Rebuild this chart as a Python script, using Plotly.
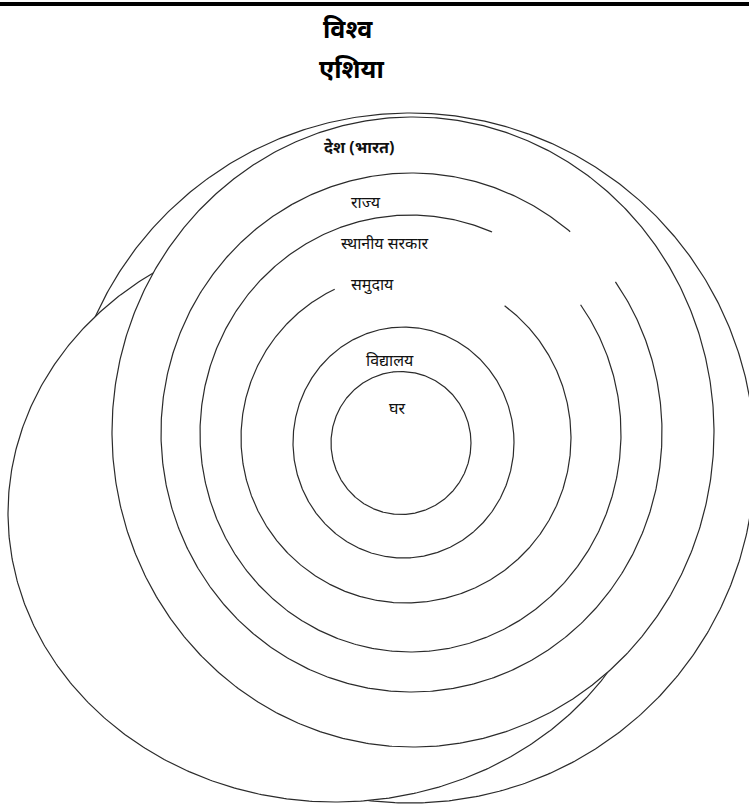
import numpy as np
import plotly.graph_objects as go

# ---- diagram data ----
title_lines = ["विश्व", "एशिया"]
ring_names = ["विश्व", "एशिया", "देश (भारत)", "राज्य", "स्थानीय सरकार", "समुदाय", "विद्यालय", "घर"]
# ellipse centres / radii in pixel-like units (x right, y down)
ring_cx = [410, 335, 413, 411.5, 410.5, 406, 403.5, 401]
ring_cy = [458, 513, 432, 432.5, 433.5, 438, 442.5, 443]
ring_rx = [345, 327, 301, 250.5, 210.5, 165, 110.5, 70]
ring_ry = [345, 289, 315, 259.5, 218.5, 165, 115.5, 71.5]
ring_fill = [True, True, True, False, False, False, False, False]
# gap in the outline (degrees, screen orientation), None = closed outline
ring_gap = [None, None, None, (-50.7, -35.5), (-67.2, -36.1), (-115.6, -53.3), None, None]
# label anchor positions
label_text = ["देश (भारत)", "राज्य", "स्थानीय सरकार", "समुदाय", "विद्यालय", "घर"]
label_x = [359, 366, 385, 372, 390, 397]
label_y = [147, 202, 243, 284, 360, 408]
label_bold = [True, False, False, False, False, False]

W, H = 749, 805
FONT = "Noto Sans, Lohit Devanagari, Mangal, sans-serif"

fig = go.Figure()

for i in range(len(ring_names)):
    cx, cy, rx, ry = ring_cx[i], ring_cy[i], ring_rx[i], ring_ry[i]
    gap = ring_gap[i]
    if gap is None:
        t = np.linspace(0, 2 * np.pi, 721)
    else:
        a0 = np.deg2rad(gap[1])
        a1 = np.deg2rad(gap[0] + 360)
        t = np.linspace(a0, a1, 721)
    xs = cx + rx * np.cos(t)
    ys = cy + ry * np.sin(t)
    fig.add_trace(go.Scatter(
        x=xs, y=ys, mode="lines",
        line=dict(color="#2b2b2b", width=1.2),
        fill="toself" if ring_fill[i] else None,
        fillcolor="white",
        hoverinfo="skip", showlegend=False,
    ))

# top rule
fig.add_shape(type="line", x0=0, x1=W, y0=4, y1=4, xref="x", yref="y",
              line=dict(color="black", width=4))

# titles
for txt, tx, ty in zip(title_lines, [348, 351], [28, 68]):
    fig.add_annotation(x=tx, y=ty, text=f"<b>{txt}</b>", showarrow=False,
                       xref="x", yref="y", xanchor="center", yanchor="middle",
                       font=dict(family=FONT, size=25, color="black"))

for txt, lx, ly, b in zip(label_text, label_x, label_y, label_bold):
    fig.add_annotation(x=lx, y=ly, text=f"<b>{txt}</b>" if b else txt, showarrow=False,
                       xref="x", yref="y", xanchor="center", yanchor="middle",
                       font=dict(family=FONT, size=16, color="#111"))

fig.update_layout(
    width=W, height=H,
    margin=dict(l=0, r=0, t=0, b=0),
    paper_bgcolor="white", plot_bgcolor="white",
    xaxis=dict(range=[0, W], visible=False, fixedrange=True),
    yaxis=dict(range=[H, 0], visible=False, fixedrange=True),
    showlegend=False,
)

fig.write_html("out.html", config={"displayModeBar": False},
               post_script="document.body.style.margin='0';document.body.style.overflow='hidden';")
